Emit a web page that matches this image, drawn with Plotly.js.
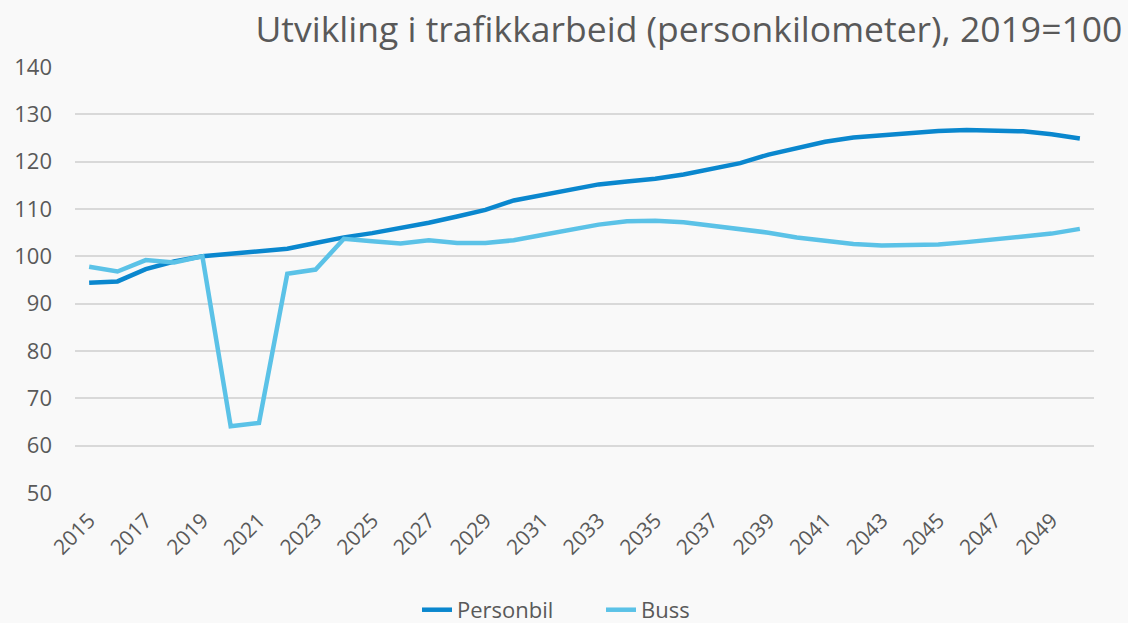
<!DOCTYPE html>
<html><head><meta charset="utf-8">
<script src="https://cdn.plot.ly/plotly-3.0.1.min.js"></script>
<style>html,body{margin:0;padding:0;background:#f9f9f9;}#chart{width:1128px;height:623px;}</style>
</head><body><div id="chart"></div>
<script>
const years = [2015,2016,2017,2018,2019,2020,2021,2022,2023,2024,2025,2026,2027,2028,2029,2030,2031,2032,2033,2034,2035,2036,2037,2038,2039,2040,2041,2042,2043,2044,2045,2046,2047,2048,2049,2050];
const personbil = [94.4,94.7,97.3,98.9,100,100.6,101.0,101.6,102.8,104.0,104.9,105.9,107.1,108.4,109.8,111.8,113.0,114.2,115.2,115.8,116.4,117.3,118.4,119.7,121.5,122.9,124.2,125.1,125.6,126.0,126.5,126.7,126.6,126.4,125.8,124.9];
const buss = [97.8,96.8,99.2,98.7,100,64.1,64.8,96.3,97.2,103.7,103.2,102.7,103.4,102.8,102.8,103.4,104.5,105.6,106.7,107.4,107.5,107.2,106.5,105.8,105.0,104.0,103.2,102.6,102.3,102.3,102.5,103.0,103.5,104.2,104.8,105.8];
const tickYears = years.filter(y => (y - 2015) % 2 === 0);

const traces = [
  {x: years, y: personbil, name: 'Personbil', type: 'scatter', mode: 'lines',
   line: {color: '#0A87CE', width: 4.5}},
  {x: years, y: buss, name: 'Buss', type: 'scatter', mode: 'lines',
   line: {color: '#5BC2E7', width: 4.5}}
];
const layout = {
  width: 1128, height: 623,
  paper_bgcolor: '#f9f9f9', plot_bgcolor: '#f9f9f9',
  font: {family: 'Open Sans, Noto Sans, sans-serif', color: '#595959'},
  margin: {l: 75, r: 34, t: 67, b: 130},
  title: {text: 'Utvikling i trafikkarbeid (personkilometer), 2019=100',
          font: {size: 35.5, color: '#595959'}, x: 0.995, xanchor: 'right', xref: 'container',
          y: 0.952, yanchor: 'middle', yref: 'container'},
  xaxis: {range: [2014.5, 2050.5], tickvals: tickYears, ticktext: tickYears.map(String),
          tickangle: -45, tickfont: {size: 21, color: '#595959'}, showgrid: false, zeroline: false,
          showline: false, ticks: '', ticklabelstandoff: 10, automargin: false},
  yaxis: {range: [50, 140], dtick: 10, tickfont: {size: 22, color: '#595959'},
          gridcolor: '#d9d9d9', gridwidth: 1.5, zeroline: false, showline: false, ticks: '',
          ticklabelstandoff: 22, automargin: false},
  showlegend: true,
  legend: {orientation: 'h', x: 0.3697, xanchor: 'left', xref: 'container',
           y: 0.021, yanchor: 'middle', yref: 'container',
           entrywidth: 139, entrywidthmode: 'pixels',
           font: {size: 22, color: '#595959'}, bgcolor: 'rgba(0,0,0,0)'}
};
Plotly.newPlot('chart', traces, layout, {displayModeBar: false});
</script></body></html>
